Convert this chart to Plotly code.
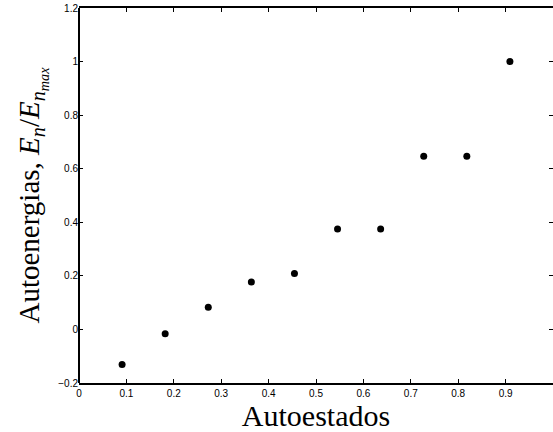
import plotly.graph_objects as go

estados = [1/11, 2/11, 3/11, 4/11, 5/11, 6/11, 7/11, 8/11, 9/11, 10/11]
energias = [-0.131, -0.016, 0.083, 0.177, 0.209, 0.375, 0.375, 0.647, 0.647, 1.0]
xticks = [0, 0.1, 0.2, 0.3, 0.4, 0.5, 0.6, 0.7, 0.8, 0.9]
yticks = [-0.2, 0, 0.2, 0.4, 0.6, 0.8, 1.0, 1.2]
ylabels = ["\u22120.2", "0", "0.2", "0.4", "0.6", "0.8", "1", "1.2"]

fig = go.Figure(go.Scatter(
    x=estados, y=energias, mode="markers",
    marker=dict(color="black", size=7),
))

serif = "Liberation Serif, Times New Roman, serif"
tickfont = dict(family="Liberation Sans, Arial, sans-serif", size=10, color="black")

fig.update_layout(
    width=553, height=432,
    margin=dict(l=79, r=0, t=8, b=49),
    paper_bgcolor="white", plot_bgcolor="white",
    showlegend=False,
    xaxis=dict(
        range=[0, 1], tickvals=xticks, ticktext=[str(v) for v in xticks],
        ticks="inside", ticklen=4, tickcolor="black", mirror="ticks",
        showline=True, linecolor="black", linewidth=1.5,
        showgrid=False, zeroline=True, zerolinecolor="black", zerolinewidth=1.5,
        tickfont=tickfont,
        title=dict(text="Autoestados", font=dict(family=serif, size=30, color="black"), standoff=7),
    ),
    yaxis=dict(
        range=[-0.2, 1.2], tickvals=yticks, ticktext=ylabels,
        ticks="inside", ticklen=4, tickcolor="black", mirror="allticks",
        showline=False, linecolor="black", linewidth=1.5,
        showgrid=False, zeroline=False, tickfont=tickfont,
        title=dict(text="Autoenergias, <i>E</i><sub><i>n</i></sub>/<i>E</i><sub><i>n</i><sub><i>max</i></sub></sub>",
                   font=dict(family=serif, size=29, color="black"), standoff=10),
    ),
)

fig.write_html("out.html")
